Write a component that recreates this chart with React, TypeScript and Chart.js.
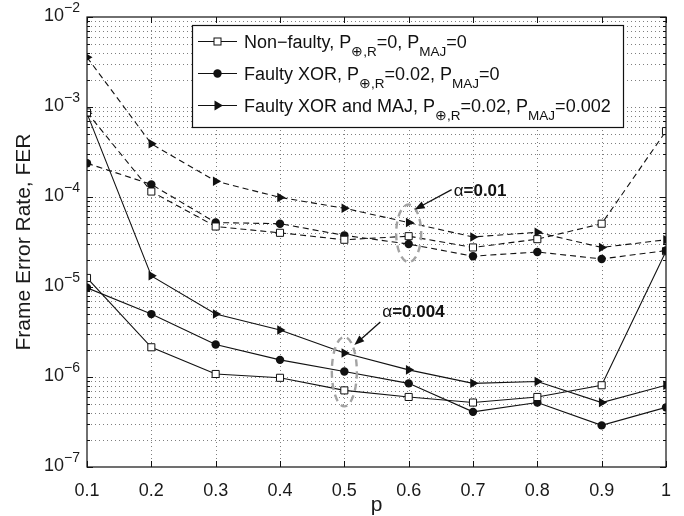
import { useEffect, useRef } from "react";
import { Chart, registerables } from "chart.js";

Chart.register(...registerables);

// ---------- data ----------
const P_VALUES = [0.1, 0.2, 0.3, 0.4, 0.5, 0.6, 0.7, 0.8, 0.9, 1.0];

// alpha = 0.01 (dashed)
const NONFAULTY_A01 = [8.7e-4, 1.15e-4, 4.7e-5, 4.0e-5, 3.35e-5, 3.67e-5, 2.75e-5, 3.4e-5, 5.05e-5, 5.4e-4];
const FAULTY_XOR_A01 = [2.37e-4, 1.38e-4, 5.2e-5, 5.05e-5, 3.75e-5, 3.0e-5, 2.2e-5, 2.45e-5, 2.05e-5, 2.54e-5];
const FAULTY_XOR_MAJ_A01 = [3.57e-3, 3.9e-4, 1.5e-4, 9.9e-5, 7.5e-5, 5.2e-5, 3.6e-5, 4.05e-5, 2.75e-5, 3.35e-5];

// alpha = 0.004 (solid)
const NONFAULTY_A004 = [1.26e-5, 2.14e-6, 1.08e-6, 9.8e-7, 7.1e-7, 6.0e-7, 5.2e-7, 6.0e-7, 8.1e-7, 2.5e-5];
const FAULTY_XOR_A004 = [9.8e-6, 5.0e-6, 2.3e-6, 1.55e-6, 1.15e-6, 8.5e-7, 4.1e-7, 5.2e-7, 2.9e-7, 4.6e-7];
const FAULTY_XOR_MAJ_A004 = [8.5e-4, 1.33e-5, 5.0e-6, 3.33e-6, 1.85e-6, 1.2e-6, 8.5e-7, 8.9e-7, 5.2e-7, 8.1e-7];

const X_TICKS = [0.1, 0.2, 0.3, 0.4, 0.5, 0.6, 0.7, 0.8, 0.9, 1.0];
const X_TICK_LABELS = ["0.1", "0.2", "0.3", "0.4", "0.5", "0.6", "0.7", "0.8", "0.9", "1"];
const Y_DECADES = [-2, -3, -4, -5, -6, -7];
const Y_DECADE_LABELS = ["\u22122", "\u22123", "\u22124", "\u22125", "\u22126", "\u22127"];

const X_TITLE = "p";
const Y_TITLE = "Frame Error Rate, FER";

type Part = { t: string; sub?: boolean };
const LEGEND_ROWS: { marker: "square" | "circle" | "triangle"; parts: Part[] }[] = [
  {
    marker: "square",
    parts: [{ t: "Non\u2212faulty, P" }, { t: "\u2295,R", sub: true }, { t: "=0, P" }, { t: "MAJ", sub: true }, { t: "=0" }],
  },
  {
    marker: "circle",
    parts: [{ t: "Faulty XOR, P" }, { t: "\u2295,R", sub: true }, { t: "=0.02, P" }, { t: "MAJ", sub: true }, { t: "=0" }],
  },
  {
    marker: "triangle",
    parts: [{ t: "Faulty XOR and MAJ, P" }, { t: "\u2295,R", sub: true }, { t: "=0.02, P" }, { t: "MAJ", sub: true }, { t: "=0.002" }],
  },
];

const ANNOT_A01 = { alpha: "\u03b1", value: "=0.01", p: 0.6 };
const ANNOT_A004 = { alpha: "\u03b1", value: "=0.004", p: 0.5 };

const FONT = "'Liberation Sans', Arial, Helvetica, sans-serif";

function drawParts(ctx: CanvasRenderingContext2D, x: number, baseline: number, parts: Part[], size: number, subSize: number) {
  let cx = x;
  ctx.textAlign = "left";
  ctx.textBaseline = "alphabetic";
  for (const p of parts) {
    if (p.sub) {
      ctx.font = `${subSize}px ${FONT}`;
      ctx.fillText(p.t, cx, baseline + 8);
    } else {
      ctx.font = `${size}px ${FONT}`;
      ctx.fillText(p.t, cx, baseline);
    }
    cx += ctx.measureText(p.t).width;
  }
  return cx;
}

function drawMarker(ctx: CanvasRenderingContext2D, kind: string, x: number, y: number) {
  ctx.save();
  ctx.strokeStyle = "#111";
  ctx.fillStyle = "#111";
  ctx.lineWidth = 1;
  ctx.setLineDash([]);
  if (kind === "square") {
    ctx.fillStyle = "#fff";
    ctx.fillRect(x - 3.5, y - 3.5, 7, 7);
    ctx.strokeRect(x - 3.5, y - 3.5, 7, 7);
  } else if (kind === "circle") {
    ctx.beginPath();
    ctx.arc(x, y, 4.2, 0, Math.PI * 2);
    ctx.fill();
  } else {
    ctx.beginPath();
    ctx.moveTo(x + 5.5, y);
    ctx.lineTo(x - 3, y - 5);
    ctx.lineTo(x - 3, y + 5);
    ctx.closePath();
    ctx.fill();
  }
  ctx.restore();
}

function drawArrow(ctx: CanvasRenderingContext2D, x1: number, y1: number, x2: number, y2: number) {
  const ang = Math.atan2(y2 - y1, x2 - x1);
  const L = 10;
  const W = 3.8;
  ctx.save();
  ctx.strokeStyle = "#111";
  ctx.fillStyle = "#111";
  ctx.lineWidth = 1.3;
  ctx.setLineDash([]);
  ctx.beginPath();
  ctx.moveTo(x1, y1);
  ctx.lineTo(x2 - Math.cos(ang) * L * 0.8, y2 - Math.sin(ang) * L * 0.8);
  ctx.stroke();
  ctx.beginPath();
  ctx.moveTo(x2, y2);
  ctx.lineTo(x2 - Math.cos(ang) * L + Math.sin(ang) * W, y2 - Math.sin(ang) * L - Math.cos(ang) * W);
  ctx.lineTo(x2 - Math.cos(ang) * L - Math.sin(ang) * W, y2 - Math.sin(ang) * L + Math.cos(ang) * W);
  ctx.closePath();
  ctx.fill();
  ctx.restore();
}

const decorPlugin = {
  id: "matlabDecor",
  beforeDatasetsDraw(chart: any) {
    const ctx: CanvasRenderingContext2D = chart.ctx;
    const { left, right, top, bottom } = chart.chartArea;
    const xs = chart.scales.x;
    const ys = chart.scales.y;
    ctx.save();
    ctx.strokeStyle = "#7f7f7f";
    ctx.lineWidth = 1;
    ctx.setLineDash([1, 3]);
    // vertical grid
    for (const v of X_TICKS) {
      const px = Math.round(xs.getPixelForValue(v)) + 0.5;
      if (px <= left + 1 || px >= right - 1) continue;
      ctx.beginPath();
      ctx.moveTo(px, bottom);
      ctx.lineTo(px, top);
      ctx.stroke();
    }
    // horizontal grid (major + minor)
    for (let e = -7; e < -2; e++) {
      for (let k = 1; k <= 9; k++) {
        const v = k * Math.pow(10, e);
        const py = Math.round(ys.getPixelForValue(v)) + 0.5;
        if (py >= bottom - 1 || py <= top + 1) continue;
        ctx.beginPath();
        ctx.moveTo(left, py);
        ctx.lineTo(right, py);
        ctx.stroke();
      }
    }
    ctx.restore();
  },
  afterDatasetsDraw(chart: any) {
    const ctx: CanvasRenderingContext2D = chart.ctx;
    const { left, right, top, bottom } = chart.chartArea;
    const xs = chart.scales.x;
    const ys = chart.scales.y;
    ctx.save();
    ctx.setLineDash([]);

    // ---- annotations (ellipses, arrows, text) ----
    const ellipse = (p: number, vTop: number, vBot: number, padY: number) => {
      const cx = xs.getPixelForValue(p);
      const yTop = ys.getPixelForValue(vTop);
      const yBot = ys.getPixelForValue(vBot);
      const cy = (yTop + yBot) / 2;
      const ry = (yBot - yTop) / 2 + padY;
      ctx.save();
      ctx.strokeStyle = "#a3a3a3";
      ctx.lineWidth = 2.4;
      ctx.setLineDash([7, 5]);
      ctx.beginPath();
      ctx.ellipse(cx, cy, 12.5, ry, 0, 0, Math.PI * 2);
      ctx.stroke();
      ctx.restore();
      return { cx, top: cy - ry };
    };
    const e1 = ellipse(ANNOT_A01.p, FAULTY_XOR_MAJ_A01[5], FAULTY_XOR_A01[5], 18);
    const e2 = ellipse(ANNOT_A004.p, FAULTY_XOR_MAJ_A004[4], NONFAULTY_A004[4], 16);

    drawArrow(ctx, e1.cx + 43, e1.top - 15, e1.cx + 6, e1.top + 5);
    drawArrow(ctx, e2.cx + 36, e2.top - 15, e2.cx + 10, e2.top + 8);

    const annText = (x: number, baseline: number, a: { alpha: string; value: string }) => {
      ctx.fillStyle = "#111";
      ctx.textAlign = "left";
      ctx.textBaseline = "alphabetic";
      ctx.font = `17px ${FONT}`;
      ctx.fillText(a.alpha, x, baseline);
      const w = ctx.measureText(a.alpha).width;
      ctx.font = `bold 17px ${FONT}`;
      ctx.fillText(a.value, x + w, baseline);
    };
    annText(e1.cx + 45, e1.top - 9, ANNOT_A01);
    annText(e2.cx + 38, e2.top - 20, ANNOT_A004);

    // ---- box ----
    ctx.strokeStyle = "#111";
    ctx.lineWidth = 1.2;
    ctx.strokeRect(left, top, right - left, bottom - top);

    // inner ticks
    ctx.lineWidth = 1;
    ctx.beginPath();
    for (const v of X_TICKS) {
      const px = Math.round(xs.getPixelForValue(v)) + 0.5;
      ctx.moveTo(px, bottom);
      ctx.lineTo(px, bottom - 6);
      ctx.moveTo(px, top);
      ctx.lineTo(px, top + 6);
    }
    for (let e = -7; e <= -2; e++) {
      for (let k = 1; k <= 9; k++) {
        if (e === -2 && k > 1) break;
        const v = k * Math.pow(10, e);
        const py = Math.round(ys.getPixelForValue(v)) + 0.5;
        const len = k === 1 ? 6 : 3;
        ctx.moveTo(left, py);
        ctx.lineTo(left + len, py);
        ctx.moveTo(right, py);
        ctx.lineTo(right - len, py);
      }
    }
    ctx.stroke();

    // ---- tick labels ----
    ctx.fillStyle = "#1a1a1a";
    ctx.font = `18px ${FONT}`;
    ctx.textAlign = "center";
    ctx.textBaseline = "middle";
    X_TICKS.forEach((v, i) => {
      ctx.fillText(X_TICK_LABELS[i], xs.getPixelForValue(v), bottom + 24);
    });

    Y_DECADES.forEach((e, i) => {
      const py = ys.getPixelForValue(Math.pow(10, e));
      ctx.font = `14px ${FONT}`;
      const supW = ctx.measureText(Y_DECADE_LABELS[i]).width;
      const rightEdge = left - 7;
      ctx.textAlign = "left";
      ctx.textBaseline = "middle";
      ctx.fillText(Y_DECADE_LABELS[i], rightEdge - supW, py - 9);
      ctx.font = `18px ${FONT}`;
      ctx.textAlign = "right";
      ctx.fillText("10", rightEdge - supW, py - 0.5);
    });

    // ---- axis titles ----
    ctx.font = `21px ${FONT}`;
    ctx.textAlign = "center";
    ctx.textBaseline = "alphabetic";
    ctx.fillText(X_TITLE, (left + right) / 2, bottom + 44);
    ctx.save();
    ctx.translate(30, (top + bottom) / 2);
    ctx.rotate(-Math.PI / 2);
    ctx.fillText(Y_TITLE, 0, 0);
    ctx.restore();

    // ---- legend ----
    const lx = left + 105;
    const ly = top + 8;
    const lw = 431;
    const lh = 102;
    ctx.fillStyle = "#fff";
    ctx.fillRect(lx, ly, lw, lh);
    ctx.strokeStyle = "#111";
    ctx.lineWidth = 1.2;
    ctx.strokeRect(lx + 0.5, ly + 0.5, lw, lh);
    LEGEND_ROWS.forEach((row, i) => {
      const cy = ly + 16 + i * 32;
      ctx.strokeStyle = "#111";
      ctx.lineWidth = 1.1;
      ctx.beginPath();
      ctx.moveTo(lx + 6, cy + 0.5);
      ctx.lineTo(lx + 45, cy + 0.5);
      ctx.stroke();
      drawMarker(ctx, row.marker, lx + 25.5, cy + 0.5);
      ctx.fillStyle = "#111";
      drawParts(ctx, lx + 52, cy + 6.5, row.parts, 18, 13.5);
    });

    ctx.restore();
  },
};

function mkDataset(label: string, data: number[], marker: string, dashed: boolean) {
  const common: any = {
    label,
    data: P_VALUES.map((p, i) => ({ x: p, y: data[i] })),
    borderColor: "#111",
    borderWidth: 1.1,
    borderDash: dashed ? [6, 4] : [],
    showLine: true,
    tension: 0,
    fill: false,
  };
  if (marker === "square") {
    return { ...common, pointStyle: "rect", pointRadius: 5, pointBackgroundColor: "#fff", pointBorderColor: "#111", pointBorderWidth: 1 };
  }
  if (marker === "circle") {
    return { ...common, pointStyle: "circle", pointRadius: 4.2, pointBackgroundColor: "#111", pointBorderColor: "#111", pointBorderWidth: 0 };
  }
  return {
    ...common,
    pointStyle: "triangle",
    pointRotation: 90,
    pointRadius: 5.5,
    pointBackgroundColor: "#111",
    pointBorderColor: "#111",
    pointBorderWidth: 0,
  };
}

export default function App() {
  const ref = useRef<HTMLCanvasElement | null>(null);
  useEffect(() => {
    if (!ref.current) return;
    const chart = new Chart(ref.current, {
      type: "scatter",
      data: {
        datasets: [
          mkDataset("Non-faulty a=0.01", NONFAULTY_A01, "square", true),
          mkDataset("Faulty XOR a=0.01", FAULTY_XOR_A01, "circle", true),
          mkDataset("Faulty XOR and MAJ a=0.01", FAULTY_XOR_MAJ_A01, "triangle", true),
          mkDataset("Non-faulty a=0.004", NONFAULTY_A004, "square", false),
          mkDataset("Faulty XOR a=0.004", FAULTY_XOR_A004, "circle", false),
          mkDataset("Faulty XOR and MAJ a=0.004", FAULTY_XOR_MAJ_A004, "triangle", false),
        ] as any,
      },
      options: {
        animation: false,
        responsive: false,
        devicePixelRatio: 1,
        layout: { padding: { left: 87, top: 17, right: 18, bottom: 49 } },
        plugins: { legend: { display: false }, tooltip: { enabled: false } },
        scales: {
          x: { type: "linear", min: 0.1, max: 1.0, display: false },
          y: { type: "logarithmic", min: 1e-7, max: 1e-2, display: false },
        },
      },
      plugins: [decorPlugin],
    } as any);
    return () => chart.destroy();
  }, []);
  return (
    <div style={{ position: "absolute", left: 0, top: 0, width: 684, height: 516, background: "#fff" }}>
      <canvas ref={ref} width={684} height={516} style={{ width: 684, height: 516, display: "block" }} />
    </div>
  );
}
